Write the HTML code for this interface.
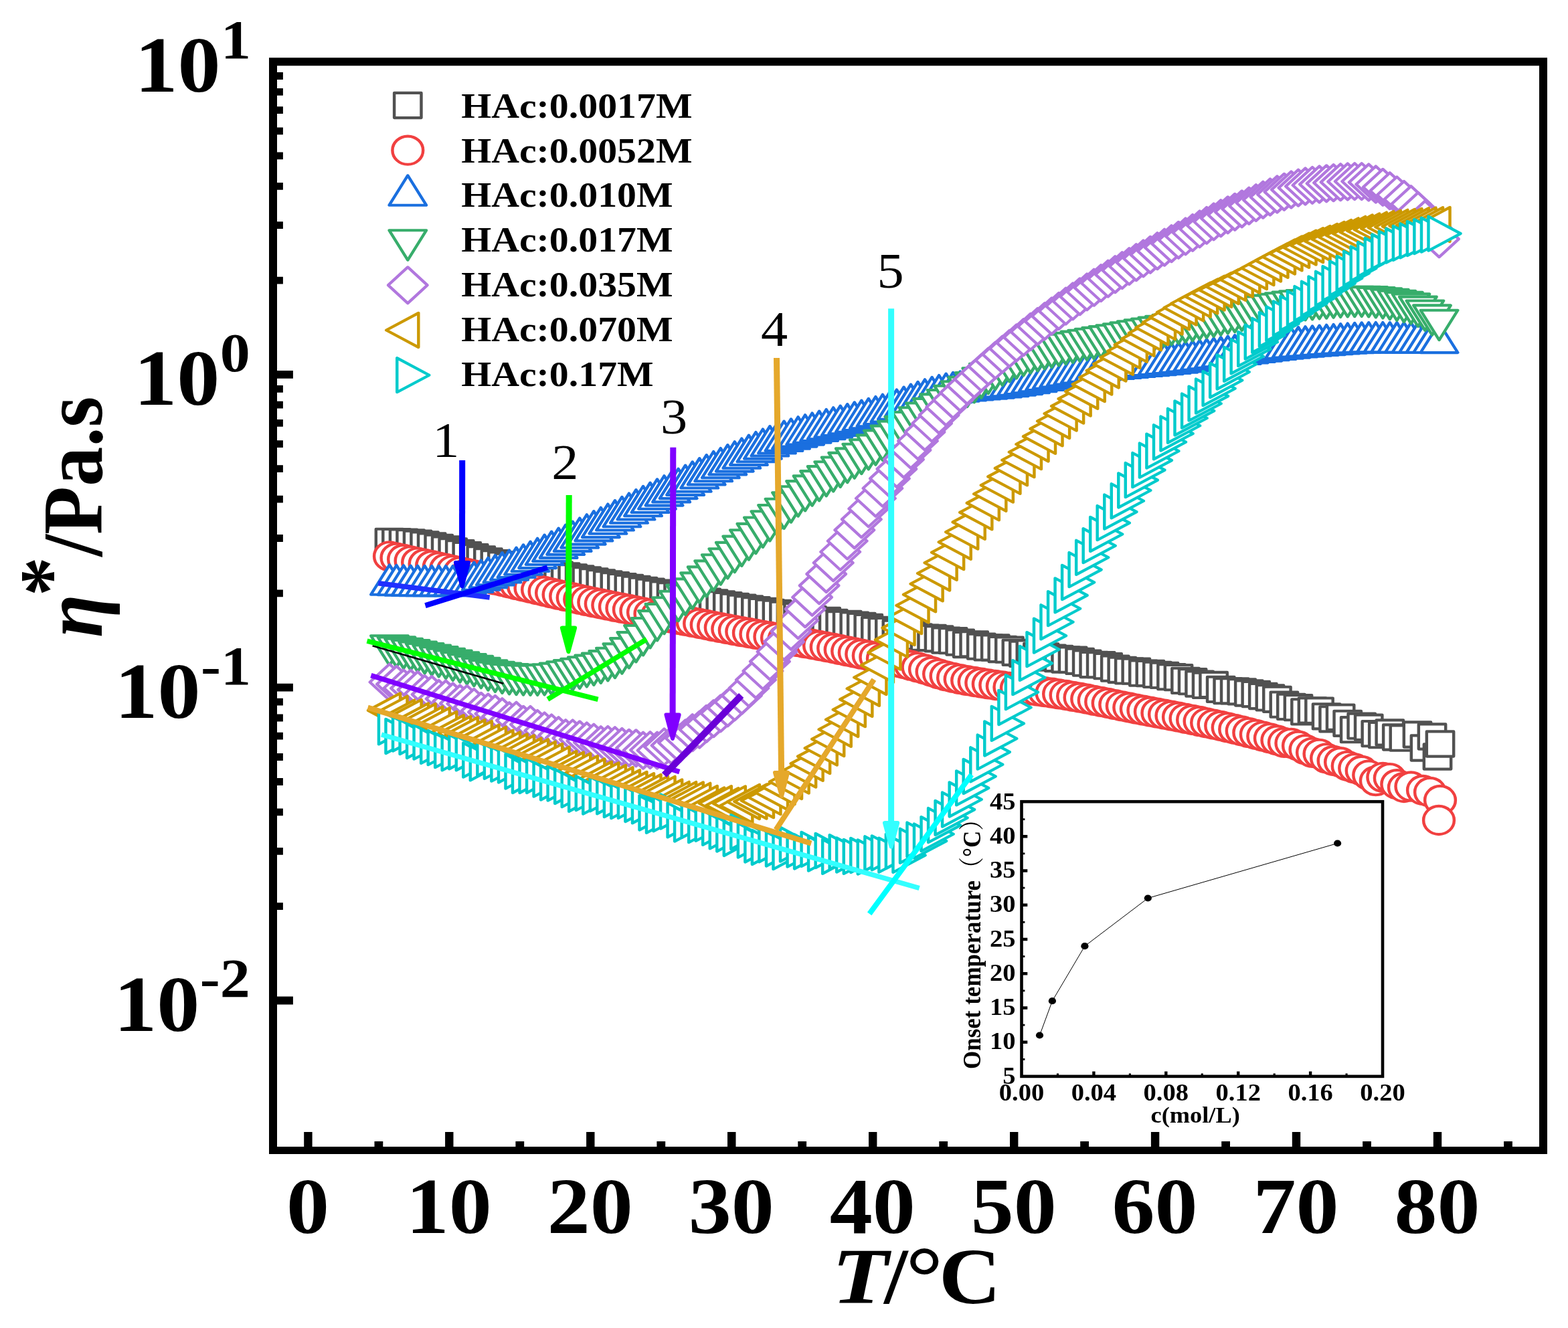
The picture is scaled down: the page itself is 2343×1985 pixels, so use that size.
<!DOCTYPE html>
<html lang="en"><head><meta charset="utf-8"><title>Complex viscosity versus temperature</title>
<style>
html,body{margin:0;padding:0;background:#fff}
body{width:2343px;height:1985px;overflow:hidden}
svg{display:block}
text{font-family:"Liberation Serif","DejaVu Serif",serif;fill:#000}
.b{font-weight:bold}
.i{font-style:italic}
</style></head><body>
<svg width="2343" height="1985" viewBox="0 0 2343 1985">
<defs>
<path id="m0" d="M-18.6,-18.6H18.6V18.6H-18.6Z" transform="scale(1.085,1)"/>
<circle id="m1" r="21.1" transform="scale(1.085,1)"/>
<path id="m2" d="M0,-29.56L25.60,14.78L-25.60,14.78Z" transform="scale(1.085,1)"/>
<path id="m3" d="M0,29.56L25.60,-14.78L-25.60,-14.78Z" transform="scale(1.085,1)"/>
<path id="m4" d="M0,-27.0L27.0,0L0,27.0L-27.0,0Z" transform="scale(1.085,1)"/>
<path id="m5" d="M-29.56,0L14.78,-25.60L14.78,25.60Z" transform="scale(1.085,1)"/>
<path id="m6" d="M29.56,0L-14.78,-25.60L-14.78,25.60Z" transform="scale(1.085,1)"/>
</defs>
<rect width="2343" height="1985" fill="#fff"/>
<g fill="#fff" stroke="#515151" stroke-width="4.1" stroke-linejoin="round">
<use href="#m0" x="582.0" y="809.4"/><use href="#m0" x="592.5" y="809.6"/><use href="#m0" x="603.1" y="810.1"/><use href="#m0" x="613.6" y="810.8"/><use href="#m0" x="624.1" y="812.2"/><use href="#m0" x="634.6" y="814.0"/><use href="#m0" x="645.2" y="816.0"/><use href="#m0" x="655.7" y="818.4"/><use href="#m0" x="666.2" y="821.0"/><use href="#m0" x="676.7" y="823.8"/><use href="#m0" x="687.3" y="826.7"/><use href="#m0" x="697.8" y="829.6"/><use href="#m0" x="708.3" y="832.7"/><use href="#m0" x="718.8" y="835.9"/><use href="#m0" x="729.4" y="838.9"/><use href="#m0" x="739.9" y="841.7"/><use href="#m0" x="750.4" y="844.0"/><use href="#m0" x="761.0" y="846.2"/><use href="#m0" x="771.5" y="848.2"/><use href="#m0" x="782.0" y="850.1"/><use href="#m0" x="792.5" y="851.9"/><use href="#m0" x="803.1" y="853.7"/><use href="#m0" x="813.6" y="855.4"/><use href="#m0" x="824.1" y="857.2"/><use href="#m0" x="834.6" y="859.0"/><use href="#m0" x="845.2" y="860.9"/><use href="#m0" x="855.7" y="862.9"/><use href="#m0" x="866.2" y="864.8"/><use href="#m0" x="876.8" y="866.8"/><use href="#m0" x="887.3" y="868.8"/><use href="#m0" x="897.8" y="870.8"/><use href="#m0" x="908.3" y="872.8"/><use href="#m0" x="918.9" y="874.7"/><use href="#m0" x="929.4" y="876.6"/><use href="#m0" x="939.9" y="878.5"/><use href="#m0" x="950.4" y="880.4"/><use href="#m0" x="961.0" y="882.3"/><use href="#m0" x="971.5" y="884.2"/><use href="#m0" x="982.0" y="886.1"/><use href="#m0" x="992.5" y="888.0"/><use href="#m0" x="1003.1" y="889.9"/><use href="#m0" x="1013.6" y="891.8"/><use href="#m0" x="1024.1" y="893.6"/><use href="#m0" x="1034.7" y="895.5"/><use href="#m0" x="1045.2" y="897.3"/><use href="#m0" x="1055.7" y="899.2"/><use href="#m0" x="1066.2" y="901.0"/><use href="#m0" x="1076.8" y="902.8"/><use href="#m0" x="1087.3" y="904.6"/><use href="#m0" x="1097.8" y="906.4"/><use href="#m0" x="1108.3" y="908.2"/><use href="#m0" x="1118.9" y="910.0"/><use href="#m0" x="1129.4" y="911.7"/><use href="#m0" x="1139.9" y="913.5"/><use href="#m0" x="1150.4" y="915.3"/><use href="#m0" x="1161.0" y="916.3"/><use href="#m0" x="1171.5" y="918.4"/><use href="#m0" x="1182.0" y="921.3"/><use href="#m0" x="1192.6" y="920.5"/><use href="#m0" x="1203.1" y="922.5"/><use href="#m0" x="1213.6" y="925.7"/><use href="#m0" x="1224.1" y="927.8"/><use href="#m0" x="1234.7" y="927.4"/><use href="#m0" x="1245.2" y="930.3"/><use href="#m0" x="1255.7" y="932.9"/><use href="#m0" x="1266.2" y="932.5"/><use href="#m0" x="1276.8" y="934.1"/><use href="#m0" x="1287.3" y="935.5"/><use href="#m0" x="1297.8" y="937.5"/><use href="#m0" x="1308.4" y="941.5"/><use href="#m0" x="1318.9" y="942.7"/><use href="#m0" x="1329.4" y="942.5"/><use href="#m0" x="1339.9" y="946.2"/><use href="#m0" x="1350.5" y="946.3"/><use href="#m0" x="1361.0" y="948.5"/><use href="#m0" x="1371.5" y="951.8"/><use href="#m0" x="1382.0" y="953.2"/><use href="#m0" x="1392.6" y="953.5"/><use href="#m0" x="1403.1" y="954.8"/><use href="#m0" x="1413.6" y="957.1"/><use href="#m0" x="1424.1" y="957.7"/><use href="#m0" x="1434.7" y="960.1"/><use href="#m0" x="1445.2" y="963.5"/><use href="#m0" x="1455.7" y="962.8"/><use href="#m0" x="1466.3" y="966.2"/><use href="#m0" x="1476.8" y="967.9"/><use href="#m0" x="1487.3" y="968.0"/><use href="#m0" x="1497.8" y="970.5"/><use href="#m0" x="1508.4" y="971.1"/><use href="#m0" x="1518.9" y="975.3"/><use href="#m0" x="1529.4" y="977.3"/><use href="#m0" x="1539.9" y="976.1"/><use href="#m0" x="1550.5" y="980.3"/><use href="#m0" x="1561.0" y="981.0"/><use href="#m0" x="1571.5" y="983.2"/><use href="#m0" x="1582.1" y="984.5"/><use href="#m0" x="1592.6" y="986.0"/><use href="#m0" x="1603.1" y="986.1"/><use href="#m0" x="1613.6" y="988.3"/><use href="#m0" x="1624.2" y="991.1"/><use href="#m0" x="1634.7" y="993.5"/><use href="#m0" x="1645.2" y="993.7"/><use href="#m0" x="1655.7" y="995.6"/><use href="#m0" x="1666.3" y="999.1"/><use href="#m0" x="1676.8" y="1001.3"/><use href="#m0" x="1687.3" y="1002.9"/><use href="#m0" x="1697.8" y="1003.2"/><use href="#m0" x="1708.4" y="1006.1"/><use href="#m0" x="1718.9" y="1006.5"/><use href="#m0" x="1729.4" y="1008.4"/><use href="#m0" x="1740.0" y="1009.4"/><use href="#m0" x="1750.5" y="1011.7"/><use href="#m0" x="1761.0" y="1012.6"/><use href="#m0" x="1771.5" y="1017.4"/><use href="#m0" x="1782.1" y="1018.7"/><use href="#m0" x="1792.6" y="1022.1"/><use href="#m0" x="1803.1" y="1024.4"/><use href="#m0" x="1813.6" y="1023.5"/><use href="#m0" x="1824.2" y="1030.4"/><use href="#m0" x="1834.7" y="1032.7"/><use href="#m0" x="1845.2" y="1032.8"/><use href="#m0" x="1855.7" y="1033.8"/><use href="#m0" x="1866.3" y="1036.0"/><use href="#m0" x="1876.8" y="1037.5"/><use href="#m0" x="1887.3" y="1040.5"/><use href="#m0" x="1897.9" y="1042.9"/><use href="#m0" x="1908.4" y="1045.3"/><use href="#m0" x="1918.9" y="1053.1"/><use href="#m0" x="1929.4" y="1056.4"/><use href="#m0" x="1940.0" y="1057.7"/><use href="#m0" x="1950.5" y="1063.9"/><use href="#m0" x="1961.0" y="1062.0"/><use href="#m0" x="1971.5" y="1062.1"/><use href="#m0" x="1982.1" y="1070.8"/><use href="#m0" x="1992.6" y="1074.8"/><use href="#m0" x="2003.1" y="1072.1"/><use href="#m0" x="2013.7" y="1081.3"/><use href="#m0" x="2024.2" y="1090.7"/><use href="#m0" x="2034.7" y="1085.2"/><use href="#m0" x="2045.2" y="1087.2"/><use href="#m0" x="2055.8" y="1096.6"/><use href="#m0" x="2066.3" y="1098.6"/><use href="#m0" x="2076.8" y="1095.0"/><use href="#m0" x="2087.3" y="1102.0"/><use href="#m0" x="2097.9" y="1103.1"/><use href="#m0" x="2118.0" y="1098.0"/><use href="#m0" x="2129.0" y="1118.0"/><use href="#m0" x="2140.0" y="1101.0"/><use href="#m0" x="2148.0" y="1131.0"/><use href="#m0" x="2152.0" y="1112.0"/>
</g>
<g fill="#fff" stroke="#F14040" stroke-width="4.1" stroke-linejoin="round">
<use href="#m1" x="582.0" y="831.4"/><use href="#m1" x="592.5" y="833.7"/><use href="#m1" x="603.1" y="836.0"/><use href="#m1" x="613.6" y="838.3"/><use href="#m1" x="624.1" y="840.6"/><use href="#m1" x="634.6" y="842.9"/><use href="#m1" x="645.2" y="845.2"/><use href="#m1" x="655.7" y="847.6"/><use href="#m1" x="666.2" y="849.9"/><use href="#m1" x="676.7" y="852.3"/><use href="#m1" x="687.3" y="854.6"/><use href="#m1" x="697.8" y="857.0"/><use href="#m1" x="708.3" y="859.4"/><use href="#m1" x="718.8" y="861.7"/><use href="#m1" x="729.4" y="864.1"/><use href="#m1" x="739.9" y="866.6"/><use href="#m1" x="750.4" y="869.0"/><use href="#m1" x="761.0" y="871.5"/><use href="#m1" x="771.5" y="874.0"/><use href="#m1" x="782.0" y="876.5"/><use href="#m1" x="792.5" y="878.9"/><use href="#m1" x="803.1" y="881.4"/><use href="#m1" x="813.6" y="883.9"/><use href="#m1" x="824.1" y="886.3"/><use href="#m1" x="834.6" y="888.8"/><use href="#m1" x="845.2" y="891.2"/><use href="#m1" x="855.7" y="893.5"/><use href="#m1" x="866.2" y="895.8"/><use href="#m1" x="876.8" y="898.1"/><use href="#m1" x="887.3" y="900.3"/><use href="#m1" x="897.8" y="902.5"/><use href="#m1" x="908.3" y="904.6"/><use href="#m1" x="918.9" y="906.8"/><use href="#m1" x="929.4" y="908.9"/><use href="#m1" x="939.9" y="911.0"/><use href="#m1" x="950.4" y="913.2"/><use href="#m1" x="961.0" y="915.3"/><use href="#m1" x="971.5" y="917.4"/><use href="#m1" x="982.0" y="919.5"/><use href="#m1" x="992.5" y="921.6"/><use href="#m1" x="1003.1" y="923.7"/><use href="#m1" x="1013.6" y="925.8"/><use href="#m1" x="1024.1" y="927.8"/><use href="#m1" x="1034.7" y="929.9"/><use href="#m1" x="1045.2" y="932.0"/><use href="#m1" x="1055.7" y="934.0"/><use href="#m1" x="1066.2" y="936.1"/><use href="#m1" x="1076.8" y="938.1"/><use href="#m1" x="1087.3" y="940.1"/><use href="#m1" x="1097.8" y="942.1"/><use href="#m1" x="1108.3" y="944.1"/><use href="#m1" x="1118.9" y="946.0"/><use href="#m1" x="1129.4" y="947.9"/><use href="#m1" x="1139.9" y="949.8"/><use href="#m1" x="1150.4" y="951.7"/><use href="#m1" x="1161.0" y="953.5"/><use href="#m1" x="1171.5" y="955.4"/><use href="#m1" x="1182.0" y="957.3"/><use href="#m1" x="1192.6" y="959.2"/><use href="#m1" x="1203.1" y="961.1"/><use href="#m1" x="1213.6" y="963.0"/><use href="#m1" x="1224.1" y="965.0"/><use href="#m1" x="1234.7" y="967.0"/><use href="#m1" x="1245.2" y="969.0"/><use href="#m1" x="1255.7" y="971.1"/><use href="#m1" x="1266.2" y="973.3"/><use href="#m1" x="1276.8" y="975.5"/><use href="#m1" x="1287.3" y="977.7"/><use href="#m1" x="1297.8" y="979.9"/><use href="#m1" x="1308.4" y="982.2"/><use href="#m1" x="1318.9" y="984.6"/><use href="#m1" x="1329.4" y="987.0"/><use href="#m1" x="1339.9" y="989.5"/><use href="#m1" x="1350.5" y="992.0"/><use href="#m1" x="1361.0" y="994.7"/><use href="#m1" x="1371.5" y="997.4"/><use href="#m1" x="1382.0" y="1000.5"/><use href="#m1" x="1392.6" y="1004.0"/><use href="#m1" x="1403.1" y="1007.4"/><use href="#m1" x="1413.6" y="1010.4"/><use href="#m1" x="1424.1" y="1012.9"/><use href="#m1" x="1434.7" y="1015.1"/><use href="#m1" x="1445.2" y="1017.1"/><use href="#m1" x="1455.7" y="1019.0"/><use href="#m1" x="1466.3" y="1020.7"/><use href="#m1" x="1476.8" y="1022.4"/><use href="#m1" x="1487.3" y="1024.0"/><use href="#m1" x="1497.8" y="1025.5"/><use href="#m1" x="1508.4" y="1027.0"/><use href="#m1" x="1518.9" y="1028.4"/><use href="#m1" x="1529.4" y="1029.8"/><use href="#m1" x="1539.9" y="1031.3"/><use href="#m1" x="1550.5" y="1032.7"/><use href="#m1" x="1561.0" y="1034.2"/><use href="#m1" x="1571.5" y="1035.7"/><use href="#m1" x="1582.1" y="1037.3"/><use href="#m1" x="1592.6" y="1039.0"/><use href="#m1" x="1603.1" y="1040.8"/><use href="#m1" x="1613.6" y="1042.7"/><use href="#m1" x="1624.2" y="1044.7"/><use href="#m1" x="1634.7" y="1046.8"/><use href="#m1" x="1645.2" y="1048.9"/><use href="#m1" x="1655.7" y="1051.0"/><use href="#m1" x="1666.3" y="1053.2"/><use href="#m1" x="1676.8" y="1055.3"/><use href="#m1" x="1687.3" y="1057.5"/><use href="#m1" x="1697.8" y="1059.6"/><use href="#m1" x="1708.4" y="1061.7"/><use href="#m1" x="1718.9" y="1063.7"/><use href="#m1" x="1729.4" y="1065.7"/><use href="#m1" x="1740.0" y="1067.7"/><use href="#m1" x="1750.5" y="1069.7"/><use href="#m1" x="1761.0" y="1071.7"/><use href="#m1" x="1771.5" y="1073.8"/><use href="#m1" x="1782.1" y="1075.9"/><use href="#m1" x="1792.6" y="1078.0"/><use href="#m1" x="1803.1" y="1080.3"/><use href="#m1" x="1813.6" y="1082.6"/><use href="#m1" x="1824.2" y="1085.0"/><use href="#m1" x="1834.7" y="1087.4"/><use href="#m1" x="1845.2" y="1089.9"/><use href="#m1" x="1855.7" y="1092.5"/><use href="#m1" x="1866.3" y="1095.1"/><use href="#m1" x="1876.8" y="1097.8"/><use href="#m1" x="1887.3" y="1100.6"/><use href="#m1" x="1897.9" y="1103.4"/><use href="#m1" x="1908.4" y="1106.5"/><use href="#m1" x="1918.9" y="1109.8"/><use href="#m1" x="1929.4" y="1110.8"/><use href="#m1" x="1940.0" y="1114.7"/><use href="#m1" x="1950.5" y="1120.3"/><use href="#m1" x="1961.0" y="1124.8"/><use href="#m1" x="1971.5" y="1126.8"/><use href="#m1" x="1982.1" y="1133.4"/><use href="#m1" x="1992.6" y="1137.0"/><use href="#m1" x="2003.1" y="1139.2"/><use href="#m1" x="2013.7" y="1144.9"/><use href="#m1" x="2024.2" y="1148.3"/><use href="#m1" x="2034.7" y="1152.0"/><use href="#m1" x="2045.2" y="1158.6"/><use href="#m1" x="2055.8" y="1167.1"/><use href="#m1" x="2066.3" y="1161.8"/><use href="#m1" x="2076.8" y="1163.1"/><use href="#m1" x="2087.3" y="1172.2"/><use href="#m1" x="2097.9" y="1177.0"/><use href="#m1" x="2108.4" y="1175.5"/><use href="#m1" x="2126.0" y="1181.0"/><use href="#m1" x="2137.0" y="1184.0"/><use href="#m1" x="2152.0" y="1196.0"/><use href="#m1" x="2150.0" y="1226.0"/>
</g>
<g fill="#fff" stroke="#1A6FDF" stroke-width="4.1" stroke-linejoin="round">
<use href="#m2" x="582.0" y="874.0"/><use href="#m2" x="592.5" y="874.5"/><use href="#m2" x="603.1" y="874.8"/><use href="#m2" x="613.6" y="875.1"/><use href="#m2" x="624.1" y="875.3"/><use href="#m2" x="634.6" y="875.4"/><use href="#m2" x="645.2" y="875.5"/><use href="#m2" x="655.7" y="875.5"/><use href="#m2" x="666.2" y="875.5"/><use href="#m2" x="676.7" y="875.5"/><use href="#m2" x="687.3" y="874.6"/><use href="#m2" x="697.8" y="872.8"/><use href="#m2" x="708.3" y="870.2"/><use href="#m2" x="718.8" y="867.0"/><use href="#m2" x="729.4" y="863.4"/><use href="#m2" x="739.9" y="859.6"/><use href="#m2" x="750.4" y="855.7"/><use href="#m2" x="761.0" y="852.0"/><use href="#m2" x="771.5" y="848.2"/><use href="#m2" x="782.0" y="843.9"/><use href="#m2" x="792.5" y="839.2"/><use href="#m2" x="803.1" y="834.3"/><use href="#m2" x="813.6" y="829.2"/><use href="#m2" x="824.1" y="824.1"/><use href="#m2" x="834.6" y="819.1"/><use href="#m2" x="845.2" y="814.1"/><use href="#m2" x="855.7" y="809.1"/><use href="#m2" x="866.2" y="804.0"/><use href="#m2" x="876.8" y="798.8"/><use href="#m2" x="887.3" y="793.6"/><use href="#m2" x="897.8" y="788.3"/><use href="#m2" x="908.3" y="783.0"/><use href="#m2" x="918.9" y="777.7"/><use href="#m2" x="929.4" y="772.4"/><use href="#m2" x="939.9" y="767.0"/><use href="#m2" x="950.4" y="761.7"/><use href="#m2" x="961.0" y="756.4"/><use href="#m2" x="971.5" y="751.2"/><use href="#m2" x="982.0" y="745.9"/><use href="#m2" x="992.5" y="740.8"/><use href="#m2" x="1003.1" y="735.6"/><use href="#m2" x="1013.6" y="730.3"/><use href="#m2" x="1024.1" y="725.1"/><use href="#m2" x="1034.7" y="719.9"/><use href="#m2" x="1045.2" y="714.7"/><use href="#m2" x="1055.7" y="709.6"/><use href="#m2" x="1066.2" y="704.5"/><use href="#m2" x="1076.8" y="699.5"/><use href="#m2" x="1087.3" y="694.6"/><use href="#m2" x="1097.8" y="689.8"/><use href="#m2" x="1108.3" y="685.0"/><use href="#m2" x="1118.9" y="680.2"/><use href="#m2" x="1129.4" y="675.5"/><use href="#m2" x="1139.9" y="671.0"/><use href="#m2" x="1150.4" y="666.7"/><use href="#m2" x="1161.0" y="662.7"/><use href="#m2" x="1171.5" y="659.1"/><use href="#m2" x="1182.0" y="655.9"/><use href="#m2" x="1192.6" y="652.8"/><use href="#m2" x="1203.1" y="649.8"/><use href="#m2" x="1213.6" y="647.0"/><use href="#m2" x="1224.1" y="644.2"/><use href="#m2" x="1234.7" y="641.5"/><use href="#m2" x="1245.2" y="638.8"/><use href="#m2" x="1255.7" y="636.2"/><use href="#m2" x="1266.2" y="633.6"/><use href="#m2" x="1276.8" y="630.9"/><use href="#m2" x="1287.3" y="628.2"/><use href="#m2" x="1297.8" y="625.4"/><use href="#m2" x="1308.4" y="622.5"/><use href="#m2" x="1318.9" y="619.3"/><use href="#m2" x="1329.4" y="615.8"/><use href="#m2" x="1339.9" y="612.0"/><use href="#m2" x="1350.5" y="608.1"/><use href="#m2" x="1361.0" y="604.2"/><use href="#m2" x="1371.5" y="600.4"/><use href="#m2" x="1382.0" y="596.8"/><use href="#m2" x="1392.6" y="593.4"/><use href="#m2" x="1403.1" y="590.5"/><use href="#m2" x="1413.6" y="588.1"/><use href="#m2" x="1424.1" y="586.4"/><use href="#m2" x="1434.7" y="584.9"/><use href="#m2" x="1445.2" y="583.7"/><use href="#m2" x="1455.7" y="582.7"/><use href="#m2" x="1466.3" y="581.7"/><use href="#m2" x="1476.8" y="580.8"/><use href="#m2" x="1487.3" y="579.8"/><use href="#m2" x="1497.8" y="578.7"/><use href="#m2" x="1508.4" y="577.5"/><use href="#m2" x="1518.9" y="576.0"/><use href="#m2" x="1529.4" y="574.3"/><use href="#m2" x="1539.9" y="572.4"/><use href="#m2" x="1550.5" y="570.4"/><use href="#m2" x="1561.0" y="568.2"/><use href="#m2" x="1571.5" y="566.0"/><use href="#m2" x="1582.1" y="563.8"/><use href="#m2" x="1592.6" y="561.7"/><use href="#m2" x="1603.1" y="559.7"/><use href="#m2" x="1613.6" y="557.8"/><use href="#m2" x="1624.2" y="556.1"/><use href="#m2" x="1634.7" y="554.7"/><use href="#m2" x="1645.2" y="553.4"/><use href="#m2" x="1655.7" y="552.2"/><use href="#m2" x="1666.3" y="551.1"/><use href="#m2" x="1676.8" y="550.1"/><use href="#m2" x="1687.3" y="549.1"/><use href="#m2" x="1697.8" y="548.2"/><use href="#m2" x="1708.4" y="547.2"/><use href="#m2" x="1718.9" y="546.3"/><use href="#m2" x="1729.4" y="545.3"/><use href="#m2" x="1740.0" y="544.3"/><use href="#m2" x="1750.5" y="543.2"/><use href="#m2" x="1761.0" y="542.0"/><use href="#m2" x="1771.5" y="540.7"/><use href="#m2" x="1782.1" y="539.4"/><use href="#m2" x="1792.6" y="538.0"/><use href="#m2" x="1803.1" y="536.6"/><use href="#m2" x="1813.6" y="535.1"/><use href="#m2" x="1824.2" y="533.6"/><use href="#m2" x="1834.7" y="532.1"/><use href="#m2" x="1845.2" y="530.6"/><use href="#m2" x="1855.7" y="529.1"/><use href="#m2" x="1866.3" y="527.7"/><use href="#m2" x="1876.8" y="526.2"/><use href="#m2" x="1887.3" y="524.8"/><use href="#m2" x="1897.9" y="523.4"/><use href="#m2" x="1908.4" y="522.1"/><use href="#m2" x="1918.9" y="520.9"/><use href="#m2" x="1929.4" y="519.8"/><use href="#m2" x="1940.0" y="518.7"/><use href="#m2" x="1950.5" y="517.8"/><use href="#m2" x="1961.0" y="516.9"/><use href="#m2" x="1971.5" y="516.1"/><use href="#m2" x="1982.1" y="515.3"/><use href="#m2" x="1992.6" y="514.5"/><use href="#m2" x="2003.1" y="513.7"/><use href="#m2" x="2013.7" y="513.0"/><use href="#m2" x="2024.2" y="512.4"/><use href="#m2" x="2034.7" y="511.9"/><use href="#m2" x="2045.2" y="511.6"/><use href="#m2" x="2055.8" y="511.5"/><use href="#m2" x="2066.3" y="511.5"/><use href="#m2" x="2076.8" y="511.6"/><use href="#m2" x="2087.3" y="511.7"/><use href="#m2" x="2097.9" y="511.8"/><use href="#m2" x="2108.4" y="511.9"/><use href="#m2" x="2118.9" y="512.0"/><use href="#m2" x="2129.4" y="512.1"/><use href="#m2" x="2140.0" y="512.2"/><use href="#m2" x="2150.5" y="512.3"/>
</g>
<g fill="#fff" stroke="#37AD6B" stroke-width="4.1" stroke-linejoin="round">
<use href="#m3" x="582.0" y="965.0"/><use href="#m3" x="592.5" y="967.2"/><use href="#m3" x="603.1" y="969.5"/><use href="#m3" x="613.6" y="971.8"/><use href="#m3" x="624.1" y="974.3"/><use href="#m3" x="634.6" y="976.8"/><use href="#m3" x="645.2" y="979.3"/><use href="#m3" x="655.7" y="981.9"/><use href="#m3" x="666.2" y="984.6"/><use href="#m3" x="676.7" y="987.3"/><use href="#m3" x="687.3" y="990.1"/><use href="#m3" x="697.8" y="992.9"/><use href="#m3" x="708.3" y="995.7"/><use href="#m3" x="718.8" y="998.7"/><use href="#m3" x="729.4" y="1002.1"/><use href="#m3" x="739.9" y="1004.5"/><use href="#m3" x="750.4" y="1006.4"/><use href="#m3" x="761.0" y="1007.8"/><use href="#m3" x="771.5" y="1008.6"/><use href="#m3" x="782.0" y="1009.1"/><use href="#m3" x="792.5" y="1009.4"/><use href="#m3" x="803.1" y="1009.5"/><use href="#m3" x="813.6" y="1009.0"/><use href="#m3" x="824.1" y="1008.1"/><use href="#m3" x="834.6" y="1006.4"/><use href="#m3" x="845.2" y="1004.0"/><use href="#m3" x="855.7" y="1001.9"/><use href="#m3" x="866.2" y="999.5"/><use href="#m3" x="876.8" y="997.0"/><use href="#m3" x="887.3" y="994.4"/><use href="#m3" x="897.8" y="991.4"/><use href="#m3" x="908.3" y="987.9"/><use href="#m3" x="918.9" y="983.6"/><use href="#m3" x="929.4" y="977.2"/><use href="#m3" x="939.9" y="968.9"/><use href="#m3" x="950.4" y="959.9"/><use href="#m3" x="961.0" y="949.8"/><use href="#m3" x="971.5" y="938.8"/><use href="#m3" x="982.0" y="927.9"/><use href="#m3" x="992.5" y="917.7"/><use href="#m3" x="1003.1" y="908.1"/><use href="#m3" x="1013.6" y="898.6"/><use href="#m3" x="1024.1" y="889.3"/><use href="#m3" x="1034.7" y="880.2"/><use href="#m3" x="1045.2" y="871.2"/><use href="#m3" x="1055.7" y="862.2"/><use href="#m3" x="1066.2" y="853.2"/><use href="#m3" x="1076.8" y="844.1"/><use href="#m3" x="1087.3" y="835.0"/><use href="#m3" x="1097.8" y="825.7"/><use href="#m3" x="1108.3" y="816.4"/><use href="#m3" x="1118.9" y="807.1"/><use href="#m3" x="1129.4" y="797.7"/><use href="#m3" x="1139.9" y="788.3"/><use href="#m3" x="1150.4" y="779.0"/><use href="#m3" x="1161.0" y="769.8"/><use href="#m3" x="1171.5" y="760.5"/><use href="#m3" x="1182.0" y="751.1"/><use href="#m3" x="1192.6" y="742.1"/><use href="#m3" x="1203.1" y="733.9"/><use href="#m3" x="1213.6" y="726.2"/><use href="#m3" x="1224.1" y="718.9"/><use href="#m3" x="1234.7" y="711.9"/><use href="#m3" x="1245.2" y="705.0"/><use href="#m3" x="1255.7" y="698.3"/><use href="#m3" x="1266.2" y="691.7"/><use href="#m3" x="1276.8" y="685.2"/><use href="#m3" x="1287.3" y="678.6"/><use href="#m3" x="1297.8" y="672.0"/><use href="#m3" x="1308.4" y="665.2"/><use href="#m3" x="1318.9" y="658.3"/><use href="#m3" x="1329.4" y="651.4"/><use href="#m3" x="1339.9" y="644.6"/><use href="#m3" x="1350.5" y="637.7"/><use href="#m3" x="1361.0" y="630.8"/><use href="#m3" x="1371.5" y="624.0"/><use href="#m3" x="1382.0" y="617.3"/><use href="#m3" x="1392.6" y="610.7"/><use href="#m3" x="1403.1" y="604.2"/><use href="#m3" x="1413.6" y="597.8"/><use href="#m3" x="1424.1" y="591.5"/><use href="#m3" x="1434.7" y="585.1"/><use href="#m3" x="1445.2" y="578.5"/><use href="#m3" x="1455.7" y="571.8"/><use href="#m3" x="1466.3" y="565.2"/><use href="#m3" x="1476.8" y="558.7"/><use href="#m3" x="1487.3" y="552.4"/><use href="#m3" x="1497.8" y="546.5"/><use href="#m3" x="1508.4" y="541.0"/><use href="#m3" x="1518.9" y="536.0"/><use href="#m3" x="1529.4" y="531.7"/><use href="#m3" x="1539.9" y="528.0"/><use href="#m3" x="1550.5" y="524.9"/><use href="#m3" x="1561.0" y="522.0"/><use href="#m3" x="1571.5" y="519.4"/><use href="#m3" x="1582.1" y="516.9"/><use href="#m3" x="1592.6" y="514.6"/><use href="#m3" x="1603.1" y="512.5"/><use href="#m3" x="1613.6" y="510.4"/><use href="#m3" x="1624.2" y="508.5"/><use href="#m3" x="1634.7" y="506.6"/><use href="#m3" x="1645.2" y="504.7"/><use href="#m3" x="1655.7" y="502.9"/><use href="#m3" x="1666.3" y="501.0"/><use href="#m3" x="1676.8" y="499.1"/><use href="#m3" x="1687.3" y="497.1"/><use href="#m3" x="1697.8" y="495.1"/><use href="#m3" x="1708.4" y="493.2"/><use href="#m3" x="1718.9" y="491.3"/><use href="#m3" x="1729.4" y="489.4"/><use href="#m3" x="1740.0" y="487.6"/><use href="#m3" x="1750.5" y="485.7"/><use href="#m3" x="1761.0" y="483.8"/><use href="#m3" x="1771.5" y="481.9"/><use href="#m3" x="1782.1" y="479.8"/><use href="#m3" x="1792.6" y="477.7"/><use href="#m3" x="1803.1" y="475.5"/><use href="#m3" x="1813.6" y="473.3"/><use href="#m3" x="1824.2" y="471.1"/><use href="#m3" x="1834.7" y="468.9"/><use href="#m3" x="1845.2" y="466.7"/><use href="#m3" x="1855.7" y="464.5"/><use href="#m3" x="1866.3" y="462.4"/><use href="#m3" x="1876.8" y="460.3"/><use href="#m3" x="1887.3" y="458.3"/><use href="#m3" x="1897.9" y="456.4"/><use href="#m3" x="1908.4" y="454.6"/><use href="#m3" x="1918.9" y="453.0"/><use href="#m3" x="1929.4" y="451.4"/><use href="#m3" x="1940.0" y="450.1"/><use href="#m3" x="1950.5" y="448.9"/><use href="#m3" x="1961.0" y="447.9"/><use href="#m3" x="1971.5" y="447.0"/><use href="#m3" x="1982.1" y="446.1"/><use href="#m3" x="1992.6" y="445.2"/><use href="#m3" x="2003.1" y="444.5"/><use href="#m3" x="2013.7" y="443.9"/><use href="#m3" x="2024.2" y="443.6"/><use href="#m3" x="2034.7" y="443.5"/><use href="#m3" x="2045.2" y="443.9"/><use href="#m3" x="2055.8" y="444.8"/><use href="#m3" x="2066.3" y="446.0"/><use href="#m3" x="2076.8" y="447.6"/><use href="#m3" x="2087.3" y="449.5"/><use href="#m3" x="2097.9" y="451.7"/><use href="#m3" x="2108.4" y="454.2"/><use href="#m3" x="2118.9" y="458.4"/><use href="#m3" x="2129.4" y="464.3"/><use href="#m3" x="2140.0" y="471.2"/><use href="#m3" x="2150.5" y="478.6"/>
</g>
<g fill="#fff" stroke="#B177DE" stroke-width="4.1" stroke-linejoin="round">
<use href="#m4" x="582.0" y="1019.6"/><use href="#m4" x="592.5" y="1022.7"/><use href="#m4" x="603.1" y="1028.4"/><use href="#m4" x="613.6" y="1028.7"/><use href="#m4" x="624.1" y="1031.0"/><use href="#m4" x="634.6" y="1036.9"/><use href="#m4" x="645.2" y="1038.0"/><use href="#m4" x="655.7" y="1044.0"/><use href="#m4" x="666.2" y="1044.5"/><use href="#m4" x="676.7" y="1048.5"/><use href="#m4" x="687.3" y="1051.5"/><use href="#m4" x="697.8" y="1051.9"/><use href="#m4" x="708.3" y="1056.9"/><use href="#m4" x="718.8" y="1062.8"/><use href="#m4" x="729.4" y="1064.4"/><use href="#m4" x="739.9" y="1066.9"/><use href="#m4" x="750.4" y="1071.2"/><use href="#m4" x="761.0" y="1077.2"/><use href="#m4" x="771.5" y="1076.7"/><use href="#m4" x="782.0" y="1082.8"/><use href="#m4" x="792.5" y="1082.9"/><use href="#m4" x="803.1" y="1088.9"/><use href="#m4" x="813.6" y="1092.4"/><use href="#m4" x="824.1" y="1095.4"/><use href="#m4" x="834.6" y="1099.2"/><use href="#m4" x="845.2" y="1103.1"/><use href="#m4" x="855.7" y="1103.4"/><use href="#m4" x="866.2" y="1105.3"/><use href="#m4" x="876.8" y="1107.5"/><use href="#m4" x="887.3" y="1109.6"/><use href="#m4" x="897.8" y="1113.2"/><use href="#m4" x="908.3" y="1112.9"/><use href="#m4" x="918.9" y="1114.1"/><use href="#m4" x="929.4" y="1116.0"/><use href="#m4" x="939.9" y="1117.8"/><use href="#m4" x="950.4" y="1118.3"/><use href="#m4" x="961.0" y="1121.7"/><use href="#m4" x="971.5" y="1121.1"/><use href="#m4" x="982.0" y="1121.6"/><use href="#m4" x="992.5" y="1116.4"/><use href="#m4" x="1003.1" y="1114.3"/><use href="#m4" x="1013.6" y="1110.3"/><use href="#m4" x="1024.1" y="1103.4"/><use href="#m4" x="1034.7" y="1095.2"/><use href="#m4" x="1045.2" y="1090.6"/><use href="#m4" x="1055.7" y="1081.8"/><use href="#m4" x="1066.2" y="1074.2"/><use href="#m4" x="1076.8" y="1066.4"/><use href="#m4" x="1087.3" y="1058.3"/><use href="#m4" x="1097.8" y="1049.4"/><use href="#m4" x="1108.3" y="1039.7"/><use href="#m4" x="1118.9" y="1028.6"/><use href="#m4" x="1129.4" y="1016.3"/><use href="#m4" x="1139.9" y="1002.9"/><use href="#m4" x="1150.4" y="988.8"/><use href="#m4" x="1161.0" y="974.1"/><use href="#m4" x="1171.5" y="959.3"/><use href="#m4" x="1182.0" y="943.8"/><use href="#m4" x="1192.6" y="927.3"/><use href="#m4" x="1203.1" y="910.2"/><use href="#m4" x="1213.6" y="892.8"/><use href="#m4" x="1224.1" y="875.3"/><use href="#m4" x="1234.7" y="858.0"/><use href="#m4" x="1245.2" y="841.3"/><use href="#m4" x="1255.7" y="824.9"/><use href="#m4" x="1266.2" y="808.6"/><use href="#m4" x="1276.8" y="792.3"/><use href="#m4" x="1287.3" y="776.2"/><use href="#m4" x="1297.8" y="760.4"/><use href="#m4" x="1308.4" y="744.9"/><use href="#m4" x="1318.9" y="729.9"/><use href="#m4" x="1329.4" y="715.3"/><use href="#m4" x="1339.9" y="701.0"/><use href="#m4" x="1350.5" y="686.8"/><use href="#m4" x="1361.0" y="672.8"/><use href="#m4" x="1371.5" y="659.1"/><use href="#m4" x="1382.0" y="645.8"/><use href="#m4" x="1392.6" y="632.9"/><use href="#m4" x="1403.1" y="620.5"/><use href="#m4" x="1413.6" y="608.8"/><use href="#m4" x="1424.1" y="597.7"/><use href="#m4" x="1434.7" y="587.0"/><use href="#m4" x="1445.2" y="576.7"/><use href="#m4" x="1455.7" y="566.8"/><use href="#m4" x="1466.3" y="557.1"/><use href="#m4" x="1476.8" y="547.7"/><use href="#m4" x="1487.3" y="538.6"/><use href="#m4" x="1497.8" y="529.7"/><use href="#m4" x="1508.4" y="521.0"/><use href="#m4" x="1518.9" y="512.5"/><use href="#m4" x="1529.4" y="504.2"/><use href="#m4" x="1539.9" y="496.0"/><use href="#m4" x="1550.5" y="488.0"/><use href="#m4" x="1561.0" y="480.2"/><use href="#m4" x="1571.5" y="472.5"/><use href="#m4" x="1582.1" y="465.0"/><use href="#m4" x="1592.6" y="457.6"/><use href="#m4" x="1603.1" y="450.4"/><use href="#m4" x="1613.6" y="443.3"/><use href="#m4" x="1624.2" y="436.4"/><use href="#m4" x="1634.7" y="429.7"/><use href="#m4" x="1645.2" y="423.1"/><use href="#m4" x="1655.7" y="416.6"/><use href="#m4" x="1666.3" y="410.2"/><use href="#m4" x="1676.8" y="404.1"/><use href="#m4" x="1687.3" y="398.1"/><use href="#m4" x="1697.8" y="392.2"/><use href="#m4" x="1708.4" y="386.4"/><use href="#m4" x="1718.9" y="380.8"/><use href="#m4" x="1729.4" y="375.2"/><use href="#m4" x="1740.0" y="369.7"/><use href="#m4" x="1750.5" y="364.2"/><use href="#m4" x="1761.0" y="358.8"/><use href="#m4" x="1771.5" y="353.4"/><use href="#m4" x="1782.1" y="347.9"/><use href="#m4" x="1792.6" y="342.4"/><use href="#m4" x="1803.1" y="336.9"/><use href="#m4" x="1813.6" y="331.4"/><use href="#m4" x="1824.2" y="326.2"/><use href="#m4" x="1834.7" y="321.3"/><use href="#m4" x="1845.2" y="316.8"/><use href="#m4" x="1855.7" y="312.3"/><use href="#m4" x="1866.3" y="307.7"/><use href="#m4" x="1876.8" y="303.1"/><use href="#m4" x="1887.3" y="298.7"/><use href="#m4" x="1897.9" y="294.5"/><use href="#m4" x="1908.4" y="290.5"/><use href="#m4" x="1918.9" y="286.8"/><use href="#m4" x="1929.4" y="283.5"/><use href="#m4" x="1940.0" y="280.7"/><use href="#m4" x="1950.5" y="278.5"/><use href="#m4" x="1961.0" y="276.9"/><use href="#m4" x="1971.5" y="275.5"/><use href="#m4" x="1982.1" y="274.3"/><use href="#m4" x="1992.6" y="273.2"/><use href="#m4" x="2003.1" y="272.2"/><use href="#m4" x="2013.7" y="271.5"/><use href="#m4" x="2024.2" y="271.1"/><use href="#m4" x="2034.7" y="271.1"/><use href="#m4" x="2045.2" y="272.5"/><use href="#m4" x="2055.8" y="275.5"/><use href="#m4" x="2066.3" y="279.8"/><use href="#m4" x="2076.8" y="285.2"/><use href="#m4" x="2087.3" y="291.4"/><use href="#m4" x="2097.9" y="298.0"/><use href="#m4" x="2108.4" y="305.2"/><use href="#m4" x="2118.9" y="315.0"/><use href="#m4" x="2129.4" y="327.5"/><use href="#m4" x="2140.0" y="341.8"/><use href="#m4" x="2150.5" y="357.2"/>
</g>
<g fill="#fff" stroke="#CC9900" stroke-width="4.1" stroke-linejoin="round">
<use href="#m5" x="582.0" y="1061.9"/><use href="#m5" x="592.5" y="1066.3"/><use href="#m5" x="603.1" y="1072.1"/><use href="#m5" x="613.6" y="1071.5"/><use href="#m5" x="624.1" y="1076.9"/><use href="#m5" x="634.6" y="1077.7"/><use href="#m5" x="645.2" y="1082.1"/><use href="#m5" x="655.7" y="1083.8"/><use href="#m5" x="666.2" y="1089.3"/><use href="#m5" x="676.7" y="1094.7"/><use href="#m5" x="687.3" y="1096.4"/><use href="#m5" x="697.8" y="1098.0"/><use href="#m5" x="708.3" y="1101.7"/><use href="#m5" x="718.8" y="1103.6"/><use href="#m5" x="729.4" y="1109.2"/><use href="#m5" x="739.9" y="1112.4"/><use href="#m5" x="750.4" y="1117.2"/><use href="#m5" x="761.0" y="1119.9"/><use href="#m5" x="771.5" y="1122.9"/><use href="#m5" x="782.0" y="1125.0"/><use href="#m5" x="792.5" y="1129.2"/><use href="#m5" x="803.1" y="1130.8"/><use href="#m5" x="813.6" y="1134.3"/><use href="#m5" x="824.1" y="1137.5"/><use href="#m5" x="834.6" y="1142.1"/><use href="#m5" x="845.2" y="1148.4"/><use href="#m5" x="855.7" y="1150.1"/><use href="#m5" x="866.2" y="1151.9"/><use href="#m5" x="876.8" y="1155.6"/><use href="#m5" x="887.3" y="1160.0"/><use href="#m5" x="897.8" y="1164.2"/><use href="#m5" x="908.3" y="1165.8"/><use href="#m5" x="918.9" y="1169.5"/><use href="#m5" x="929.4" y="1172.7"/><use href="#m5" x="939.9" y="1176.7"/><use href="#m5" x="950.4" y="1179.5"/><use href="#m5" x="961.0" y="1181.7"/><use href="#m5" x="971.5" y="1183.5"/><use href="#m5" x="982.0" y="1186.0"/><use href="#m5" x="992.5" y="1186.3"/><use href="#m5" x="1003.1" y="1190.9"/><use href="#m5" x="1013.6" y="1194.3"/><use href="#m5" x="1024.1" y="1194.6"/><use href="#m5" x="1034.7" y="1194.9"/><use href="#m5" x="1045.2" y="1196.3"/><use href="#m5" x="1055.7" y="1200.4"/><use href="#m5" x="1066.2" y="1203.0"/><use href="#m5" x="1076.8" y="1200.7"/><use href="#m5" x="1087.3" y="1203.7"/><use href="#m5" x="1097.8" y="1200.9"/><use href="#m5" x="1108.3" y="1204.3"/><use href="#m5" x="1118.9" y="1198.5"/><use href="#m5" x="1129.4" y="1198.1"/><use href="#m5" x="1139.9" y="1196.7"/><use href="#m5" x="1150.4" y="1191.7"/><use href="#m5" x="1161.0" y="1184.8"/><use href="#m5" x="1171.5" y="1176.6"/><use href="#m5" x="1182.0" y="1168.5"/><use href="#m5" x="1192.6" y="1160.2"/><use href="#m5" x="1203.1" y="1151.2"/><use href="#m5" x="1213.6" y="1141.4"/><use href="#m5" x="1224.1" y="1130.6"/><use href="#m5" x="1234.7" y="1118.2"/><use href="#m5" x="1245.2" y="1104.7"/><use href="#m5" x="1255.7" y="1090.3"/><use href="#m5" x="1266.2" y="1075.5"/><use href="#m5" x="1276.8" y="1060.7"/><use href="#m5" x="1287.3" y="1045.4"/><use href="#m5" x="1297.8" y="1029.3"/><use href="#m5" x="1308.4" y="1012.5"/><use href="#m5" x="1318.9" y="994.3"/><use href="#m5" x="1329.4" y="975.2"/><use href="#m5" x="1339.9" y="956.4"/><use href="#m5" x="1350.5" y="938.6"/><use href="#m5" x="1361.0" y="921.6"/><use href="#m5" x="1371.5" y="905.0"/><use href="#m5" x="1382.0" y="888.8"/><use href="#m5" x="1392.6" y="872.8"/><use href="#m5" x="1403.1" y="857.0"/><use href="#m5" x="1413.6" y="841.3"/><use href="#m5" x="1424.1" y="825.7"/><use href="#m5" x="1434.7" y="810.3"/><use href="#m5" x="1445.2" y="795.2"/><use href="#m5" x="1455.7" y="780.4"/><use href="#m5" x="1466.3" y="765.9"/><use href="#m5" x="1476.8" y="751.9"/><use href="#m5" x="1487.3" y="738.3"/><use href="#m5" x="1497.8" y="725.2"/><use href="#m5" x="1508.4" y="712.4"/><use href="#m5" x="1518.9" y="699.9"/><use href="#m5" x="1529.4" y="687.7"/><use href="#m5" x="1539.9" y="675.7"/><use href="#m5" x="1550.5" y="664.0"/><use href="#m5" x="1561.0" y="652.4"/><use href="#m5" x="1571.5" y="640.9"/><use href="#m5" x="1582.1" y="629.5"/><use href="#m5" x="1592.6" y="618.2"/><use href="#m5" x="1603.1" y="607.1"/><use href="#m5" x="1613.6" y="596.1"/><use href="#m5" x="1624.2" y="585.3"/><use href="#m5" x="1634.7" y="574.6"/><use href="#m5" x="1645.2" y="564.2"/><use href="#m5" x="1655.7" y="554.0"/><use href="#m5" x="1666.3" y="544.1"/><use href="#m5" x="1676.8" y="534.3"/><use href="#m5" x="1687.3" y="524.7"/><use href="#m5" x="1697.8" y="515.4"/><use href="#m5" x="1708.4" y="506.4"/><use href="#m5" x="1718.9" y="497.9"/><use href="#m5" x="1729.4" y="489.7"/><use href="#m5" x="1740.0" y="481.7"/><use href="#m5" x="1750.5" y="474.1"/><use href="#m5" x="1761.0" y="466.8"/><use href="#m5" x="1771.5" y="460.0"/><use href="#m5" x="1782.1" y="453.8"/><use href="#m5" x="1792.6" y="448.2"/><use href="#m5" x="1803.1" y="443.1"/><use href="#m5" x="1813.6" y="438.2"/><use href="#m5" x="1824.2" y="433.4"/><use href="#m5" x="1834.7" y="428.5"/><use href="#m5" x="1845.2" y="423.4"/><use href="#m5" x="1855.7" y="418.0"/><use href="#m5" x="1866.3" y="412.3"/><use href="#m5" x="1876.8" y="406.6"/><use href="#m5" x="1887.3" y="400.7"/><use href="#m5" x="1897.9" y="395.0"/><use href="#m5" x="1908.4" y="389.4"/><use href="#m5" x="1918.9" y="384.0"/><use href="#m5" x="1929.4" y="378.9"/><use href="#m5" x="1940.0" y="374.3"/><use href="#m5" x="1950.5" y="370.2"/><use href="#m5" x="1961.0" y="366.7"/><use href="#m5" x="1971.5" y="363.5"/><use href="#m5" x="1982.1" y="360.4"/><use href="#m5" x="1992.6" y="357.4"/><use href="#m5" x="2003.1" y="354.5"/><use href="#m5" x="2013.7" y="351.8"/><use href="#m5" x="2024.2" y="349.3"/><use href="#m5" x="2034.7" y="347.0"/><use href="#m5" x="2045.2" y="344.9"/><use href="#m5" x="2055.8" y="343.1"/><use href="#m5" x="2066.3" y="341.6"/><use href="#m5" x="2076.8" y="340.3"/><use href="#m5" x="2087.3" y="339.3"/><use href="#m5" x="2097.9" y="338.4"/><use href="#m5" x="2108.4" y="337.5"/><use href="#m5" x="2118.9" y="336.7"/><use href="#m5" x="2129.4" y="336.1"/><use href="#m5" x="2140.0" y="335.7"/><use href="#m5" x="2150.5" y="335.5"/>
</g>
<g fill="#fff" stroke="#00CBCC" stroke-width="4.1" stroke-linejoin="round">
<use href="#m6" x="582.0" y="1086.8"/><use href="#m6" x="592.5" y="1100.5"/><use href="#m6" x="603.1" y="1097.0"/><use href="#m6" x="613.6" y="1101.6"/><use href="#m6" x="624.1" y="1107.5"/><use href="#m6" x="634.6" y="1109.2"/><use href="#m6" x="645.2" y="1115.4"/><use href="#m6" x="655.7" y="1117.7"/><use href="#m6" x="666.2" y="1121.7"/><use href="#m6" x="676.7" y="1125.9"/><use href="#m6" x="687.3" y="1123.8"/><use href="#m6" x="697.8" y="1125.8"/><use href="#m6" x="708.3" y="1136.1"/><use href="#m6" x="718.8" y="1140.9"/><use href="#m6" x="729.4" y="1134.0"/><use href="#m6" x="739.9" y="1138.4"/><use href="#m6" x="750.4" y="1142.2"/><use href="#m6" x="761.0" y="1144.0"/><use href="#m6" x="771.5" y="1153.1"/><use href="#m6" x="782.0" y="1159.5"/><use href="#m6" x="792.5" y="1159.5"/><use href="#m6" x="803.1" y="1159.5"/><use href="#m6" x="813.6" y="1165.1"/><use href="#m6" x="824.1" y="1170.0"/><use href="#m6" x="834.6" y="1171.0"/><use href="#m6" x="845.2" y="1175.5"/><use href="#m6" x="855.7" y="1180.7"/><use href="#m6" x="866.2" y="1187.3"/><use href="#m6" x="876.8" y="1185.7"/><use href="#m6" x="887.3" y="1191.2"/><use href="#m6" x="897.8" y="1186.9"/><use href="#m6" x="908.3" y="1190.8"/><use href="#m6" x="918.9" y="1195.6"/><use href="#m6" x="929.4" y="1197.7"/><use href="#m6" x="939.9" y="1197.4"/><use href="#m6" x="950.4" y="1202.5"/><use href="#m6" x="961.0" y="1204.8"/><use href="#m6" x="971.5" y="1215.0"/><use href="#m6" x="982.0" y="1219.4"/><use href="#m6" x="992.5" y="1216.9"/><use href="#m6" x="1003.1" y="1213.0"/><use href="#m6" x="1013.6" y="1225.8"/><use href="#m6" x="1024.1" y="1232.0"/><use href="#m6" x="1034.7" y="1226.5"/><use href="#m6" x="1045.2" y="1233.7"/><use href="#m6" x="1055.7" y="1231.4"/><use href="#m6" x="1066.2" y="1237.4"/><use href="#m6" x="1076.8" y="1242.9"/><use href="#m6" x="1087.3" y="1247.0"/><use href="#m6" x="1097.8" y="1253.5"/><use href="#m6" x="1108.3" y="1243.7"/><use href="#m6" x="1118.9" y="1256.1"/><use href="#m6" x="1129.4" y="1263.0"/><use href="#m6" x="1139.9" y="1266.5"/><use href="#m6" x="1150.4" y="1262.8"/><use href="#m6" x="1161.0" y="1269.0"/><use href="#m6" x="1171.5" y="1273.6"/><use href="#m6" x="1182.0" y="1262.2"/><use href="#m6" x="1192.6" y="1270.1"/><use href="#m6" x="1203.1" y="1273.0"/><use href="#m6" x="1213.6" y="1269.4"/><use href="#m6" x="1224.1" y="1276.1"/><use href="#m6" x="1234.7" y="1271.5"/><use href="#m6" x="1245.2" y="1280.3"/><use href="#m6" x="1255.7" y="1273.7"/><use href="#m6" x="1266.2" y="1278.0"/><use href="#m6" x="1276.8" y="1280.4"/><use href="#m6" x="1287.3" y="1278.5"/><use href="#m6" x="1297.8" y="1281.0"/><use href="#m6" x="1308.4" y="1275.8"/><use href="#m6" x="1318.9" y="1274.9"/><use href="#m6" x="1329.4" y="1278.2"/><use href="#m6" x="1339.9" y="1272.5"/><use href="#m6" x="1350.5" y="1278.4"/><use href="#m6" x="1361.0" y="1264.3"/><use href="#m6" x="1371.5" y="1255.1"/><use href="#m6" x="1382.0" y="1257.1"/><use href="#m6" x="1392.6" y="1246.7"/><use href="#m6" x="1403.1" y="1233.6"/><use href="#m6" x="1413.6" y="1222.5"/><use href="#m6" x="1424.1" y="1210.1"/><use href="#m6" x="1434.7" y="1195.0"/><use href="#m6" x="1445.2" y="1177.9"/><use href="#m6" x="1455.7" y="1160.5"/><use href="#m6" x="1466.3" y="1142.8"/><use href="#m6" x="1476.8" y="1124.1"/><use href="#m6" x="1487.3" y="1104.0"/><use href="#m6" x="1497.8" y="1081.4"/><use href="#m6" x="1508.4" y="1057.5"/><use href="#m6" x="1518.9" y="1034.6"/><use href="#m6" x="1529.4" y="1012.7"/><use href="#m6" x="1539.9" y="991.4"/><use href="#m6" x="1550.5" y="970.7"/><use href="#m6" x="1561.0" y="950.2"/><use href="#m6" x="1571.5" y="929.8"/><use href="#m6" x="1582.1" y="909.7"/><use href="#m6" x="1592.6" y="889.9"/><use href="#m6" x="1603.1" y="870.5"/><use href="#m6" x="1613.6" y="851.6"/><use href="#m6" x="1624.2" y="833.3"/><use href="#m6" x="1634.7" y="815.7"/><use href="#m6" x="1645.2" y="798.5"/><use href="#m6" x="1655.7" y="781.6"/><use href="#m6" x="1666.3" y="765.1"/><use href="#m6" x="1676.8" y="748.8"/><use href="#m6" x="1687.3" y="733.0"/><use href="#m6" x="1697.8" y="717.6"/><use href="#m6" x="1708.4" y="702.6"/><use href="#m6" x="1718.9" y="688.1"/><use href="#m6" x="1729.4" y="674.2"/><use href="#m6" x="1740.0" y="660.8"/><use href="#m6" x="1750.5" y="648.1"/><use href="#m6" x="1761.0" y="636.3"/><use href="#m6" x="1771.5" y="625.0"/><use href="#m6" x="1782.1" y="614.1"/><use href="#m6" x="1792.6" y="603.2"/><use href="#m6" x="1803.1" y="592.1"/><use href="#m6" x="1813.6" y="580.7"/><use href="#m6" x="1824.2" y="568.5"/><use href="#m6" x="1834.7" y="556.0"/><use href="#m6" x="1845.2" y="544.3"/><use href="#m6" x="1855.7" y="532.8"/><use href="#m6" x="1866.3" y="521.7"/><use href="#m6" x="1876.8" y="511.2"/><use href="#m6" x="1887.3" y="501.3"/><use href="#m6" x="1897.9" y="492.4"/><use href="#m6" x="1908.4" y="483.9"/><use href="#m6" x="1918.9" y="475.9"/><use href="#m6" x="1929.4" y="468.3"/><use href="#m6" x="1940.0" y="460.9"/><use href="#m6" x="1950.5" y="453.6"/><use href="#m6" x="1961.0" y="446.3"/><use href="#m6" x="1971.5" y="438.9"/><use href="#m6" x="1982.1" y="431.3"/><use href="#m6" x="1992.6" y="423.6"/><use href="#m6" x="2003.1" y="415.9"/><use href="#m6" x="2013.7" y="408.4"/><use href="#m6" x="2024.2" y="401.1"/><use href="#m6" x="2034.7" y="394.1"/><use href="#m6" x="2045.2" y="387.6"/><use href="#m6" x="2055.8" y="381.5"/><use href="#m6" x="2066.3" y="376.0"/><use href="#m6" x="2076.8" y="371.3"/><use href="#m6" x="2087.3" y="367.2"/><use href="#m6" x="2097.9" y="363.3"/><use href="#m6" x="2108.4" y="359.8"/><use href="#m6" x="2118.9" y="356.5"/><use href="#m6" x="2129.4" y="353.6"/><use href="#m6" x="2140.0" y="351.2"/><use href="#m6" x="2150.5" y="349.1"/>
</g>
<line x1="556.6" y1="965.3" x2="752.3" y2="1021.8" stroke="#000" stroke-width="2.6" stroke-linecap="butt"/>
<line x1="548.5" y1="958.2" x2="893.6" y2="1045.3" stroke="#00FF00" stroke-width="7.5" stroke-linecap="butt"/>
<line x1="818.4" y1="1045.3" x2="966.2" y2="955.5" stroke="#00FF00" stroke-width="7.5" stroke-linecap="butt"/>
<line x1="565.3" y1="871.8" x2="731.7" y2="893" stroke="#1F2FFF" stroke-width="7.5" stroke-linecap="butt"/>
<line x1="635.5" y1="905.1" x2="818" y2="848.2" stroke="#0000FF" stroke-width="8" stroke-linecap="butt"/>
<line x1="554.4" y1="1009.6" x2="1015.3" y2="1153.7" stroke="#8000FF" stroke-width="7.5" stroke-linecap="butt"/>
<line x1="992.5" y1="1158.5" x2="1107.7" y2="1039.6" stroke="#6A00D8" stroke-width="10" stroke-linecap="butt"/>
<line x1="549.6" y1="1057.6" x2="1212.2" y2="1260.6" stroke="#E5A82B" stroke-width="8" stroke-linecap="butt"/>
<line x1="1159.4" y1="1240.2" x2="1305.9" y2="1015.6" stroke="#E5A82B" stroke-width="8" stroke-linecap="butt"/>
<line x1="570" y1="1098" x2="1373.7" y2="1327.5" stroke="#33FFFF" stroke-width="7.5" stroke-linecap="butt"/>
<line x1="1299.2" y1="1365.9" x2="1451.7" y2="1158" stroke="#00FFFF" stroke-width="8" stroke-linecap="butt"/>
<line x1="690.7" y1="688" x2="690.5" y2="841.9" stroke="#0000FF" stroke-width="9.0" stroke-linecap="butt"/>
<path d="M690.5,876.4 L681.0,840.9 L700.1,840.9Z" fill="#0000FF" stroke="#0000FF" stroke-width="6.0" stroke-linejoin="round"/>
<line x1="850.2" y1="740.1" x2="849.5" y2="939.6" stroke="#00FF00" stroke-width="9.0" stroke-linecap="butt"/>
<path d="M849.4,974.1 L839.9,938.6 L859.1,938.6Z" fill="#00FF00" stroke="#00FF00" stroke-width="6.0" stroke-linejoin="round"/>
<line x1="1005.8" y1="668.8" x2="1005.1" y2="1069.5" stroke="#8000FF" stroke-width="9.0" stroke-linecap="butt"/>
<path d="M1005.0,1104.0 L995.5,1068.5 L1014.7,1068.5Z" fill="#8000FF" stroke="#8000FF" stroke-width="6.0" stroke-linejoin="round"/>
<line x1="1160.5" y1="535" x2="1167.6" y2="1155.8" stroke="#E5A82B" stroke-width="9.0" stroke-linecap="butt"/>
<path d="M1168.0,1190.3 L1158.0,1154.9 L1177.1,1154.7Z" fill="#E5A82B" stroke="#E5A82B" stroke-width="6.0" stroke-linejoin="round"/>
<line x1="1331.6" y1="461.3" x2="1331.6" y2="1231.1" stroke="#33FFFF" stroke-width="9.0" stroke-linecap="butt"/>
<path d="M1331.6,1265.6 L1322.0,1230.1 L1341.2,1230.1Z" fill="#33FFFF" stroke="#33FFFF" stroke-width="6.0" stroke-linejoin="round"/>
<path d="M402.0,86.2H2312.0V1724.9H402.0Z M414.0,98.2V1713.9H2300.0V98.2Z" fill="#000" fill-rule="evenodd"/>
<path d="M408.0,554.0H437.9V565.8H408.0ZM408.0,1021.8H437.9V1033.6H408.0ZM408.0,1489.6H437.9V1501.4H408.0ZM408.0,413.7H422.9V424.5H408.0ZM408.0,331.3H422.9V342.1H408.0ZM408.0,272.9H422.9V283.7H408.0ZM408.0,227.5H422.9V238.3H408.0ZM408.0,190.5H422.9V201.3H408.0ZM408.0,159.2H422.9V170.0H408.0ZM408.0,132.0H422.9V142.8H408.0ZM408.0,108.1H422.9V118.9H408.0ZM408.0,881.5H422.9V892.3H408.0ZM408.0,799.1H422.9V809.9H408.0ZM408.0,740.7H422.9V751.5H408.0ZM408.0,695.3H422.9V706.1H408.0ZM408.0,658.3H422.9V669.1H408.0ZM408.0,627.0H422.9V637.8H408.0ZM408.0,599.8H422.9V610.6H408.0ZM408.0,575.9H422.9V586.7H408.0ZM408.0,1349.3H422.9V1360.1H408.0ZM408.0,1266.9H422.9V1277.7H408.0ZM408.0,1208.5H422.9V1219.3H408.0ZM408.0,1163.1H422.9V1173.9H408.0ZM408.0,1126.1H422.9V1136.9H408.0ZM408.0,1094.8H422.9V1105.6H408.0ZM408.0,1067.6H422.9V1078.4H408.0ZM408.0,1043.7H422.9V1054.5H408.0ZM454.2,1718.9V1692H466.6V1718.9ZM665.1,1718.9V1692H677.5V1718.9ZM876.1,1718.9V1692H888.5V1718.9ZM1087.0,1718.9V1692H1099.5V1718.9ZM1298.0,1718.9V1692H1310.4V1718.9ZM1509.0,1718.9V1692H1521.4V1718.9ZM1719.9,1718.9V1692H1732.3V1718.9ZM1930.8,1718.9V1692H1943.2V1718.9ZM2141.8,1718.9V1692H2154.2V1718.9ZM559.5,1718.9V1706H572.3V1718.9ZM770.4,1718.9V1706H783.2V1718.9ZM981.4,1718.9V1706H994.2V1718.9ZM1192.3,1718.9V1706H1205.1V1718.9ZM1403.3,1718.9V1706H1416.1V1718.9ZM1614.2,1718.9V1706H1627.0V1718.9ZM1825.2,1718.9V1706H1838.0V1718.9ZM2036.1,1718.9V1706H2048.9V1718.9ZM2247.1,1718.9V1706H2259.9V1718.9Z" fill="#000"/>
<text transform="translate(459.9,1843) scale(1.085,1)" font-size="118" class="b" text-anchor="middle">0</text>
<text transform="translate(670.8,1843) scale(1.085,1)" font-size="118" class="b" text-anchor="middle">10</text>
<text transform="translate(881.8,1843) scale(1.085,1)" font-size="118" class="b" text-anchor="middle">20</text>
<text transform="translate(1092.8,1843) scale(1.085,1)" font-size="118" class="b" text-anchor="middle">30</text>
<text transform="translate(1303.7,1843) scale(1.085,1)" font-size="118" class="b" text-anchor="middle">40</text>
<text transform="translate(1514.7,1843) scale(1.085,1)" font-size="118" class="b" text-anchor="middle">50</text>
<text transform="translate(1725.6,1843) scale(1.085,1)" font-size="118" class="b" text-anchor="middle">60</text>
<text transform="translate(1936.5,1843) scale(1.085,1)" font-size="118" class="b" text-anchor="middle">70</text>
<text transform="translate(2147.5,1843) scale(1.085,1)" font-size="118" class="b" text-anchor="middle">80</text>
<text transform="translate(330.1,86.9) scale(1.085,1)" font-size="83" class="b" text-anchor="start">1</text>
<text transform="translate(329.6,137.4) scale(1.085,1)" font-size="118" class="b" text-anchor="end">10</text>
<text transform="translate(328.8,554.7) scale(1.085,1)" font-size="83" class="b" text-anchor="start">0</text>
<text transform="translate(328.3,605.2) scale(1.085,1)" font-size="118" class="b" text-anchor="end">10</text>
<text transform="translate(300.1,1022.5) scale(1.085,1)" font-size="83" class="b" text-anchor="start">-1</text>
<text transform="translate(299.6,1073.0) scale(1.085,1)" font-size="118" class="b" text-anchor="end">10</text>
<text transform="translate(298.8,1490.3) scale(1.085,1)" font-size="83" class="b" text-anchor="start">-2</text>
<text transform="translate(298.3,1540.8) scale(1.085,1)" font-size="118" class="b" text-anchor="end">10</text>
<text transform="translate(1243,1947.5) scale(1.085,1)" font-size="118" class="b" text-anchor="start"><tspan class="b i" textLength="78" lengthAdjust="spacingAndGlyphs">T</tspan><tspan dx="-6">/</tspan><tspan font-size="128" dx="-3" dy="3">°</tspan><tspan dx="-5.5" dy="-3">C</tspan></text>
<text transform="translate(152,953) scale(1.085,1) rotate(-90)" font-size="118" class="b"><tspan class="b i">η</tspan><tspan font-size="118" dy="-32.5" dx="-3">*</tspan><tspan dy="32.5" dx="0.5">/Pa.s</tspan></text>
<use href="#m0" x="609.3" y="157.5" fill="#fff" stroke="#515151" stroke-width="4.1" stroke-linejoin="round"/>
<text transform="translate(689.2,175.8) scale(1.085,1)" font-size="53.3" class="b" text-anchor="start">HAc:0.0017M</text>
<use href="#m1" x="609.3" y="224.7" fill="#fff" stroke="#F14040" stroke-width="4.1" stroke-linejoin="round"/>
<text transform="translate(689.2,242.6) scale(1.085,1)" font-size="53.3" class="b" text-anchor="start">HAc:0.0052M</text>
<use href="#m2" x="609.3" y="291.9" fill="#fff" stroke="#1A6FDF" stroke-width="4.1" stroke-linejoin="round"/>
<text transform="translate(689.2,309.4) scale(1.085,1)" font-size="53.3" class="b" text-anchor="start">HAc:0.010M</text>
<use href="#m3" x="609.3" y="359.1" fill="#fff" stroke="#37AD6B" stroke-width="4.1" stroke-linejoin="round"/>
<text transform="translate(689.2,376.2) scale(1.085,1)" font-size="53.3" class="b" text-anchor="start">HAc:0.017M</text>
<use href="#m4" x="609.3" y="426.3" fill="#fff" stroke="#B177DE" stroke-width="4.1" stroke-linejoin="round"/>
<text transform="translate(689.2,443.0) scale(1.085,1)" font-size="53.3" class="b" text-anchor="start">HAc:0.035M</text>
<use href="#m5" x="609.3" y="493.5" fill="#fff" stroke="#CC9900" stroke-width="4.1" stroke-linejoin="round"/>
<text transform="translate(689.2,509.8) scale(1.085,1)" font-size="53.3" class="b" text-anchor="start">HAc:0.070M</text>
<use href="#m6" x="609.3" y="560.7" fill="#fff" stroke="#00CBCC" stroke-width="4.1" stroke-linejoin="round"/>
<text transform="translate(689.2,576.6) scale(1.085,1)" font-size="53.3" class="b" text-anchor="start">HAc:0.17M</text>
<text transform="translate(666.3,683.2) scale(1.085,1)" font-size="74" class="" text-anchor="middle">1</text>
<text transform="translate(844.4,716.1) scale(1.085,1)" font-size="74" class="" text-anchor="middle">2</text>
<text transform="translate(1007,647.6) scale(1.085,1)" font-size="74" class="" text-anchor="middle">3</text>
<text transform="translate(1157,517) scale(1.085,1)" font-size="74" class="" text-anchor="middle">4</text>
<text transform="translate(1330.6,430) scale(1.085,1)" font-size="74" class="" text-anchor="middle">5</text>
<rect x="1526.5" y="1198.2" width="539.5" height="410.70000000000005" fill="none" stroke="#000" stroke-width="4.6"/>
<path d="M1526.5,1555.4H1535.3V1560.0H1526.5ZM1526.5,1504.2H1535.3V1508.8H1526.5ZM1526.5,1452.9H1535.3V1457.5H1526.5ZM1526.5,1401.7H1535.3V1406.2H1526.5ZM1526.5,1350.4H1535.3V1355.0H1526.5ZM1526.5,1299.2H1535.3V1303.8H1526.5ZM1526.5,1247.9H1535.3V1252.5H1526.5ZM1526.5,1581.9H1531.4V1584.7H1526.5ZM1526.5,1530.7H1531.4V1533.5H1526.5ZM1526.5,1479.4H1531.4V1482.2H1526.5ZM1526.5,1428.2H1531.4V1431.0H1526.5ZM1526.5,1376.9H1531.4V1379.7H1526.5ZM1526.5,1325.7H1531.4V1328.5H1526.5ZM1526.5,1274.4H1531.4V1277.2H1526.5ZM1526.5,1223.2H1531.4V1226.0H1526.5ZM1632.2,1608.9V1601.4H1636.6V1608.9ZM1740.1,1608.9V1601.4H1744.5V1608.9ZM1848.0,1608.9V1601.4H1852.4V1608.9ZM1955.9,1608.9V1601.4H1960.3V1608.9ZM1578.9,1608.9V1604.6H1582.0V1608.9ZM1686.8,1608.9V1604.6H1689.9V1608.9ZM1794.7,1608.9V1604.6H1797.8V1608.9ZM1902.6,1608.9V1604.6H1905.8V1608.9ZM2010.5,1608.9V1604.6H2013.6V1608.9Z" fill="#000"/>
<text transform="translate(1517.5,1619.5) scale(1.085,1)" font-size="35.5" class="b" text-anchor="end">5</text>
<text transform="translate(1517.5,1568.3) scale(1.085,1)" font-size="35.5" class="b" text-anchor="end">10</text>
<text transform="translate(1517.5,1517.0) scale(1.085,1)" font-size="35.5" class="b" text-anchor="end">15</text>
<text transform="translate(1517.5,1465.8) scale(1.085,1)" font-size="35.5" class="b" text-anchor="end">20</text>
<text transform="translate(1517.5,1414.5) scale(1.085,1)" font-size="35.5" class="b" text-anchor="end">25</text>
<text transform="translate(1517.5,1363.3) scale(1.085,1)" font-size="35.5" class="b" text-anchor="end">30</text>
<text transform="translate(1517.5,1312.0) scale(1.085,1)" font-size="35.5" class="b" text-anchor="end">35</text>
<text transform="translate(1517.5,1260.8) scale(1.085,1)" font-size="35.5" class="b" text-anchor="end">40</text>
<text transform="translate(1517.5,1209.5) scale(1.085,1)" font-size="35.5" class="b" text-anchor="end">45</text>
<text transform="translate(1526.5,1645) scale(1.085,1)" font-size="35.5" class="b" text-anchor="middle">0.00</text>
<text transform="translate(1634.4,1645) scale(1.085,1)" font-size="35.5" class="b" text-anchor="middle">0.04</text>
<text transform="translate(1742.3,1645) scale(1.085,1)" font-size="35.5" class="b" text-anchor="middle">0.08</text>
<text transform="translate(1850.2,1645) scale(1.085,1)" font-size="35.5" class="b" text-anchor="middle">0.12</text>
<text transform="translate(1958.1,1645) scale(1.085,1)" font-size="35.5" class="b" text-anchor="middle">0.16</text>
<text transform="translate(2066.0,1645) scale(1.085,1)" font-size="35.5" class="b" text-anchor="middle">0.20</text>
<text transform="translate(1786.2,1678.2) scale(1.085,1)" font-size="33.5" class="b" text-anchor="middle">c(mol/L)</text>
<text transform="translate(1465.2,1598) scale(1.085,1) rotate(-90)" font-size="35" class="b" style="font-family:'Liberation Serif','Noto Serif CJK SC','Noto Sans CJK SC',serif">Onset temperature<tspan style="font-weight:normal">（</tspan>°C<tspan style="font-weight:normal">）</tspan></text>
<polyline points="1553.5,1547.5 1572.4,1496.2 1620.9,1414.2 1715.3,1342.5 1998.6,1260.5" fill="none" stroke="#000" stroke-width="1"/>
<ellipse cx="1553.5" cy="1547.5" rx="5.6" ry="5.1" fill="#000"/>
<ellipse cx="1572.4" cy="1496.2" rx="5.6" ry="5.1" fill="#000"/>
<ellipse cx="1620.9" cy="1414.2" rx="5.6" ry="5.1" fill="#000"/>
<ellipse cx="1715.3" cy="1342.5" rx="5.6" ry="5.1" fill="#000"/>
<ellipse cx="1998.6" cy="1260.5" rx="5.6" ry="5.1" fill="#000"/>
</svg>
</body></html>
